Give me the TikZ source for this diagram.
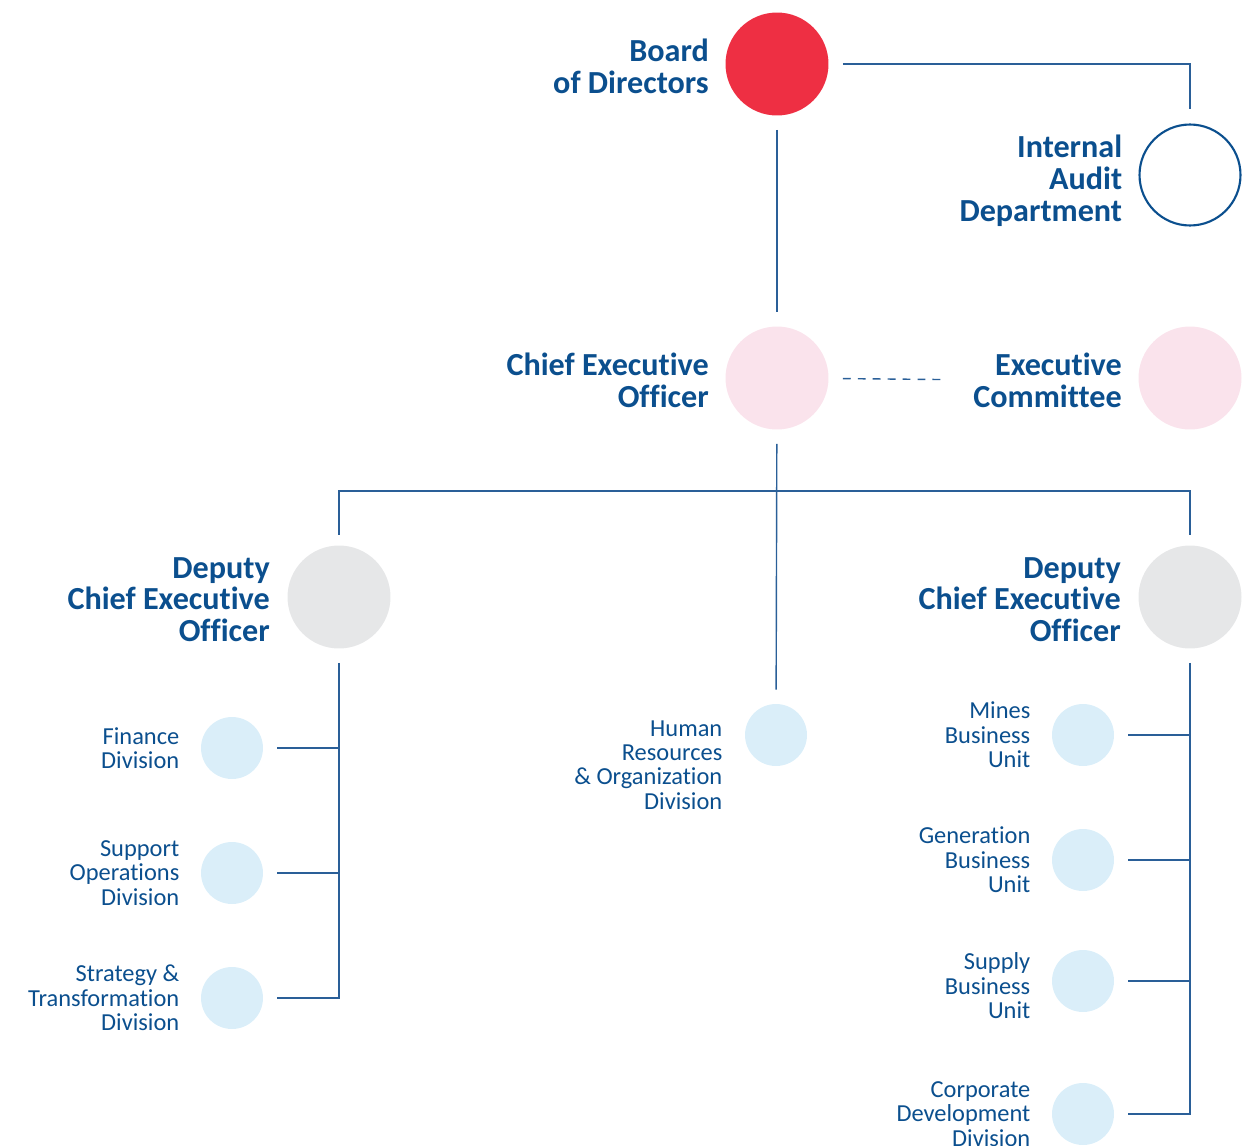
\documentclass[tikz,border=0pt]{standalone}
\usepackage{fontspec}
\setmainfont{Carlito}[Ligatures=NoCommon]
\usetikzlibrary{positioning}
\definecolor{navy}{HTML}{0B4F8E}
\definecolor{linkblue}{HTML}{2A5F98}
\definecolor{boardred}{HTML}{EE2F43}
\definecolor{ceopink}{HTML}{FAE3EC}
\definecolor{deputygray}{HTML}{E6E7E8}
\definecolor{unitblue}{HTML}{DAEEF9}

\begin{document}
\begin{tikzpicture}[x=0.02cm, y=-0.02cm,
    big/.style={circle, minimum size=2.06cm, inner sep=0pt},
    small/.style={circle, fill=unitblue, minimum size=1.24cm, inner sep=0pt},
    head/.style={align=right, text=navy, font=\fontsize{18.3}{18.1}\selectfont\bfseries, inner sep=0pt, yshift=-0.05cm},
    unit/.style={align=right, text=navy, font=\fontsize{13.9}{13.9}\selectfont, inner sep=0pt},
    link/.style={draw=linkblue, line width=0.8pt, shorten <=0.28cm, shorten >=0.28cm}
]
\useasboundingbox (0,0) rectangle (1248,1146);

% board, audit, ceo and deputies
\node[big, fill=boardred] (board) at (777,64) {};
\node[big, draw=navy, line width=1.2pt, minimum size=2.02cm] (audit) at (1190,175) {};
\node[big, fill=ceopink] (ceo) at (777,378) {};
\node[big, fill=ceopink] (exco) at (1190,378) {};
\node[big, fill=deputygray] (dcl) at (339,597) {};
\node[big, fill=deputygray] (dcr) at (1190,597) {};

\node[head, left=0.32cm of board] (boardtxt) {Board\\of Directors};
\node[head, left=0.32cm of audit, yshift=-0.06cm] (audittxt) {Internal\\Audit\\Department};
\node[head, left=0.32cm of ceo] (ceotxt) {Chief Executive\\Officer};
\node[head, left=0.32cm of exco] (excotxt) {Executive\\Committee};
\node[head, left=0.34cm of dcl] (dcltxt) {Deputy\\Chief Executive\\Officer};
\node[head, left=0.34cm of dcr] (dcrtxt) {Deputy\\Chief Executive\\Officer};

% divisions and business units
\node[small] (fin) at (232,748) {};
\node[small] (supp) at (232,873) {};
\node[small] (strat) at (232,998) {};
\node[small] (hr) at (776,735) {};
\node[small] (mines) at (1083,735) {};
\node[small] (gen) at (1083,860) {};
\node[small] (supply) at (1083,981) {};
\node[small] (corp) at (1083,1114) {};

\node[unit, left=0.42cm of fin] (fintxt) {Finance\\Division};
\node[unit, left=0.42cm of supp] (supptxt) {Support\\Operations\\Division};
\node[unit, left=0.42cm of strat] (strattxt) {Strategy \&\\Transformation\\Division};
\node[unit, left=0.44cm of hr, yshift=-0.6cm] (hrtxt) {Human\\Resources\\\& Organization\\Division};
\node[unit, left=0.42cm of mines] (minestxt) {Mines\\Business\\Unit};
\node[unit, left=0.42cm of gen] (gentxt) {Generation\\Business\\Unit};
\node[unit, left=0.42cm of supply, yshift=-0.1cm] (supplytxt) {Supply\\Business\\Unit};
\node[unit, left=0.42cm of corp] (corptxt) {Corporate\\Development\\Division};

% reporting lines
\coordinate (bus) at (777,491);
\draw[link] (board) -| (audit);
\draw[link] (board) -- (ceo);
\draw[link, dash pattern=on 4.5pt off 4pt, shorten >=0.58cm] (ceo) -- (excotxt);
\draw[link] (ceo) -- (hr);
\draw[link, shorten <=0.21cm, shorten >=0.21cm] (dcl) |- (bus) -| (dcr);

\draw[link] (dcl) |- (strat);
\draw[link, shorten <=0pt] (dcl |- fin) -- (fin);
\draw[link, shorten <=0pt] (dcl |- supp) -- (supp);

\draw[link] (dcr) |- (corp);
\draw[link, shorten <=0pt] (dcr |- mines) -- (mines);
\draw[link, shorten <=0pt] (dcr |- gen) -- (gen);
\draw[link, shorten <=0pt] (dcr |- supply) -- (supply);
\end{tikzpicture}
\end{document}
